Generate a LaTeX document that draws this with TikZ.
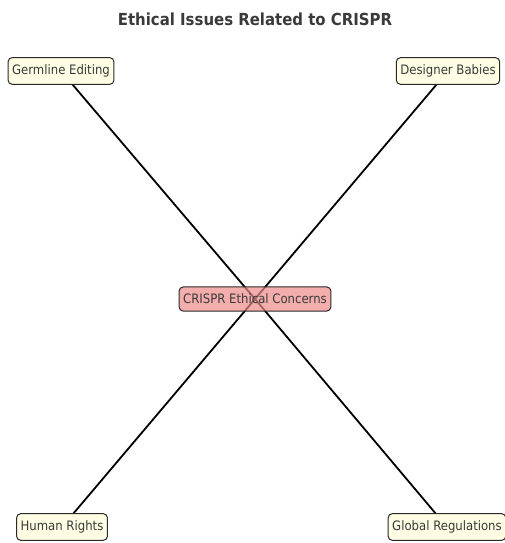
\documentclass[tikz,border=0pt]{standalone}
\usepackage{fontspec}
\setmainfont{DejaVu Sans Condensed}
\usetikzlibrary{backgrounds}
\definecolor{boxfill}{HTML}{FFFDE3}
\definecolor{boxline}{HTML}{2A2A2A}
\definecolor{corefill}{HTML}{EE8A8A}
\definecolor{txt}{HTML}{3A3A3A}
\tikzset{
  leaf/.style={draw=boxline, line width=1pt, fill=boxfill, rounded corners=4pt,
    inner xsep=4pt, inner ysep=7pt, font=\fontsize{13}{15}\selectfont, text=txt},
  core/.style={leaf, fill=corefill, fill opacity=0.7, text opacity=1},
  edge/.style={line width=1.8pt, black}
}
\begin{document}
\begin{tikzpicture}[x=1pt,y=1pt]
\useasboundingbox (0,0) rectangle (505,543);
\node[font=\bfseries\fontsize{16.6}{19}\selectfont, text=txt] (title) at (255,524) {Ethical Issues Related to CRISPR};
\node[core] (c) at (255,244) {CRISPR Ethical Concerns};
\node[leaf] (g) at (61,472) {Germline Editing};
\node[leaf] (d) at (448,472) {Designer Babies};
\node[leaf] (h) at (62,16) {Human Rights};
\node[leaf] (r) at (447,16) {Global Regulations};
\begin{scope}[on background layer]
\draw[edge] (c.center) -- (g.center);
\draw[edge] (c.center) -- (d.center);
\draw[edge] (c.center) -- (h.center);
\draw[edge] (c.center) -- (r.center);
\end{scope}
\end{tikzpicture}
\end{document}
